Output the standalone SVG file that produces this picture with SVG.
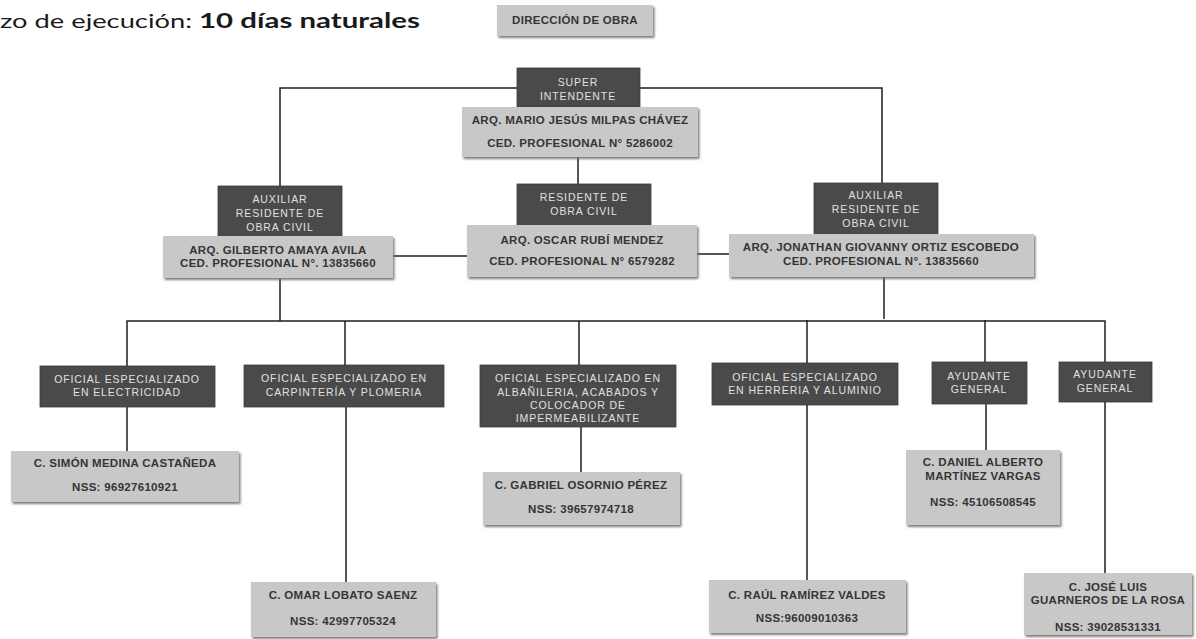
<svg xmlns="http://www.w3.org/2000/svg" width="1196" height="639" viewBox="0 0 1196 639">
<defs>
<style>
.dk{fill:#4a4a4a;stroke:#3a3a3a;stroke-width:0.8}
.lt{fill:#c8c8c8;filter:url(#sh)}
.dt{font-family:"Liberation Sans",Arial,sans-serif;font-size:10.5px;fill:#e0e0e0;text-anchor:middle;letter-spacing:0.9px}
.ltx{font-family:"Liberation Sans",Arial,sans-serif;font-size:11.5px;font-weight:bold;fill:#353535;text-anchor:middle;letter-spacing:0.3px}
.ln{fill:none;stroke:#1e1e1e;stroke-width:1.5}
.ttl{font-family:Lato,"Open Sans",sans-serif;font-size:20px;fill:#1a1a1a}
</style>
<filter id="sh" x="-5%" y="-10%" width="115%" height="130%">
<feDropShadow dx="1.5" dy="2" stdDeviation="0.8" flood-color="#6f6f6f" flood-opacity="0.9"/>
</filter>
</defs>
<rect width="1196" height="639" fill="#ffffff"/>

<g id="title">
<text class="ttl" x="0" y="28" textLength="192" lengthAdjust="spacingAndGlyphs">zo de ejecución:</text>
<text class="ttl" x="199" y="28" font-weight="bold" textLength="221" lengthAdjust="spacingAndGlyphs">10 días naturales</text>
</g>

<g id="connectors">
<path class="ln" d="M280,186 V88 H882 V183"/>
<path class="ln" d="M578,157 V184"/>
<path class="ln" d="M393,256 H467"/>
<path class="ln" d="M697,254 H729"/>
<path class="ln" d="M280,278 V321"/>
<path class="ln" d="M884,277 V319"/>
<path class="ln" d="M127,366 V321 H1105 V362"/>
<path class="ln" d="M345,321 V365"/>
<path class="ln" d="M579,321 V365"/>
<path class="ln" d="M807,320 V363"/>
<path class="ln" d="M985,320 V362"/>
<path class="ln" d="M127,407 V451"/>
<path class="ln" d="M346,407 V582"/>
<path class="ln" d="M581,427 V472"/>
<path class="ln" d="M807,405 V580"/>
<path class="ln" d="M986,404 V450"/>
<path class="ln" d="M1105,402 V573"/>
</g>

<g id="direccion">
<rect class="lt" x="497" y="5" width="156" height="31"/>
<text class="ltx" x="575" y="24" font-size="11">DIRECCIÓN DE OBRA</text>
</g>

<g id="superintendente">
<rect class="dk" x="517" y="68" width="123" height="39"/>
<text class="dt" x="578" y="86">SUPER</text>
<text class="dt" x="578" y="100">INTENDENTE</text>
</g>

<g id="mario">
<rect class="lt" x="462" y="107" width="236" height="50"/>
<text class="ltx" x="580" y="124">ARQ. MARIO JESÚS MILPAS CHÁVEZ</text>
<text class="ltx" x="580" y="147">CED. PROFESIONAL N° 5286002</text>
</g>

<g id="residente">
<rect class="dk" x="517" y="184" width="134" height="42"/>
<text class="dt" x="584" y="201">RESIDENTE DE</text>
<text class="dt" x="584" y="215">OBRA CIVIL</text>
</g>

<g id="oscar">
<rect class="lt" x="467" y="225" width="230" height="52"/>
<text class="ltx" x="582" y="244">ARQ. OSCAR RUBÍ MENDEZ</text>
<text class="ltx" x="582" y="265">CED. PROFESIONAL N° 6579282</text>
</g>

<g id="auxiliar-izq">
<rect class="dk" x="218" y="186" width="124" height="51"/>
<text class="dt" x="280" y="203">AUXILIAR</text>
<text class="dt" x="280" y="217">RESIDENTE DE</text>
<text class="dt" x="280" y="231">OBRA CIVIL</text>
</g>

<g id="gilberto">
<rect class="lt" x="163" y="236" width="230" height="42"/>
<text class="ltx" x="278" y="254">ARQ. GILBERTO AMAYA AVILA</text>
<text class="ltx" x="278" y="267">CED. PROFESIONAL N°. 13835660</text>
</g>

<g id="auxiliar-der">
<rect class="dk" x="814" y="183" width="124" height="51"/>
<text class="dt" x="876" y="199">AUXILIAR</text>
<text class="dt" x="876" y="213">RESIDENTE DE</text>
<text class="dt" x="876" y="227">OBRA CIVIL</text>
</g>

<g id="jonathan">
<rect class="lt" x="729" y="234" width="305" height="43"/>
<text class="ltx" x="881" y="251">ARQ. JONATHAN GIOVANNY ORTIZ ESCOBEDO</text>
<text class="ltx" x="881" y="265">CED. PROFESIONAL N°. 13835660</text>
</g>

<g id="electricidad">
<rect class="dk" x="40" y="366" width="175" height="41"/>
<text class="dt" x="127" y="383">OFICIAL ESPECIALIZADO</text>
<text class="dt" x="127" y="396">EN ELECTRICIDAD</text>
</g>

<g id="carpinteria">
<rect class="dk" x="244" y="365" width="200" height="42"/>
<text class="dt" x="344" y="382">OFICIAL ESPECIALIZADO EN</text>
<text class="dt" x="344" y="396">CARPINTERÍA Y PLOMERIA</text>
</g>

<g id="albanileria">
<rect class="dk" x="480" y="365" width="196" height="62"/>
<text class="dt" x="578" y="382">OFICIAL ESPECIALIZADO EN</text>
<text class="dt" x="578" y="396">ALBAÑILERIA, ACABADOS Y</text>
<text class="dt" x="578" y="409">COLOCADOR DE</text>
<text class="dt" x="578" y="422">IMPERMEABILIZANTE</text>
</g>

<g id="herreria">
<rect class="dk" x="712" y="363" width="186" height="42"/>
<text class="dt" x="805" y="381">OFICIAL ESPECIALIZADO</text>
<text class="dt" x="805" y="394">EN HERRERIA Y ALUMINIO</text>
</g>

<g id="ayudante1">
<rect class="dk" x="932" y="362" width="95" height="42"/>
<text class="dt" x="979" y="380">AYUDANTE</text>
<text class="dt" x="979" y="393">GENERAL</text>
</g>

<g id="ayudante2">
<rect class="dk" x="1059" y="362" width="93" height="40"/>
<text class="dt" x="1105" y="378">AYUDANTE</text>
<text class="dt" x="1105" y="392">GENERAL</text>
</g>

<g id="simon">
<rect class="lt" x="11" y="451" width="228" height="51"/>
<text class="ltx" x="125" y="467">C. SIMÓN MEDINA CASTAÑEDA</text>
<text class="ltx" x="125" y="491">NSS: 96927610921</text>
</g>

<g id="omar">
<rect class="lt" x="251" y="582" width="185" height="55"/>
<text class="ltx" x="343" y="599">C. OMAR LOBATO SAENZ</text>
<text class="ltx" x="343" y="625">NSS: 42997705324</text>
</g>

<g id="gabriel">
<rect class="lt" x="483" y="472" width="197" height="53"/>
<text class="ltx" x="581" y="489">C. GABRIEL OSORNIO PÉREZ</text>
<text class="ltx" x="581" y="513">NSS: 39657974718</text>
</g>

<g id="raul">
<rect class="lt" x="709" y="580" width="197" height="53"/>
<text class="ltx" x="807" y="599">C. RAÚL RAMÍREZ VALDES</text>
<text class="ltx" x="807" y="622">NSS:96009010363</text>
</g>

<g id="daniel">
<rect class="lt" x="906" y="450" width="154" height="75"/>
<text class="ltx" x="983" y="466">C. DANIEL ALBERTO</text>
<text class="ltx" x="983" y="480">MARTÍNEZ VARGAS</text>
<text class="ltx" x="983" y="506">NSS: 45106508545</text>
</g>

<g id="jose">
<rect class="lt" x="1024" y="573" width="168" height="62"/>
<text class="ltx" x="1108" y="591">C. JOSÉ LUIS</text>
<text class="ltx" x="1108" y="604">GUARNEROS DE LA ROSA</text>
<text class="ltx" x="1108" y="631">NSS: 39028531331</text>
</g>
</svg>
